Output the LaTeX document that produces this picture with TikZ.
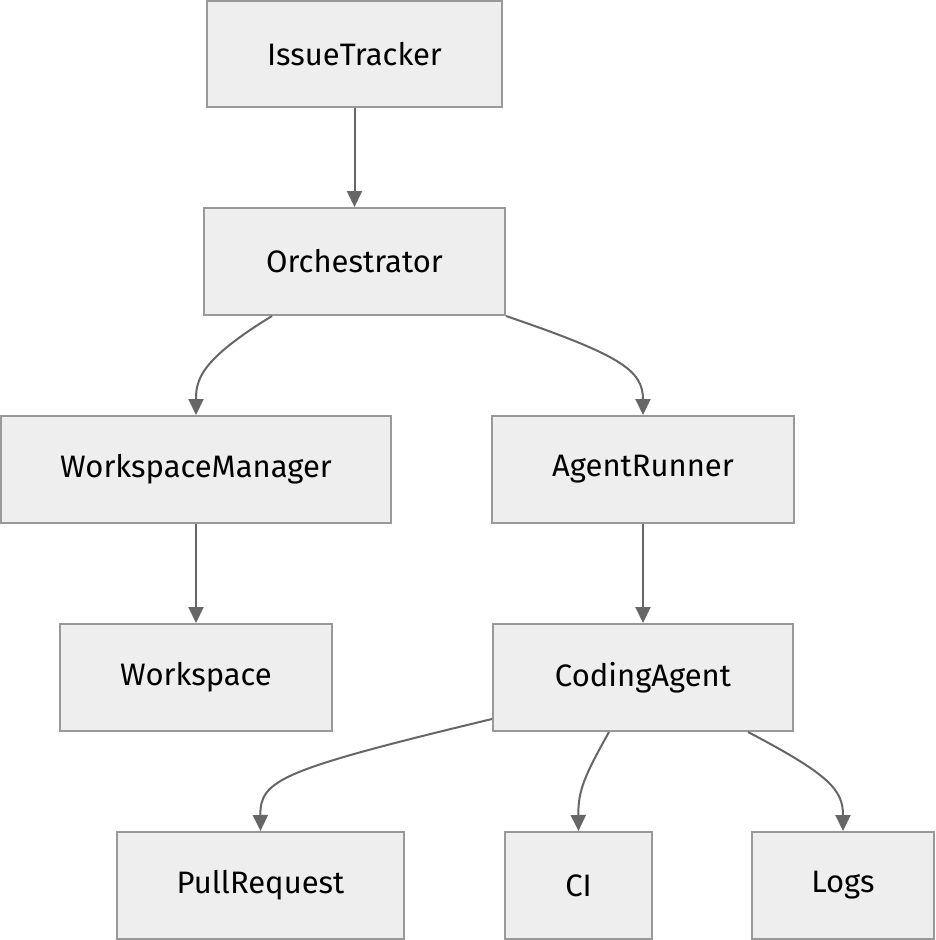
\documentclass[tikz,border=0pt]{standalone}
\usepackage{fontspec}
\setmainfont{Fira Sans}
\usetikzlibrary{arrows.meta}
\begin{document}
\begin{tikzpicture}[x=1pt,y=-1pt,
  box/.style={draw=boxborder,fill=boxfill,line width=2pt,inner sep=0pt,font=\fontsize{31}{36}\selectfont,text=black},
  conn/.style={draw=linecol,line width=2pt,-{Triangle[length=16pt,width=15pt]}}]
\definecolor{boxborder}{HTML}{999999}
\definecolor{boxfill}{HTML}{EEEEEE}
\definecolor{linecol}{HTML}{666666}
\useasboundingbox (0,0) rectangle (935,940);
\node[box,minimum width=295pt,minimum height=106pt] (it) at (354.5,54) {IssueTracker};
\node[box,minimum width=301pt,minimum height=107pt] (orch) at (354.5,261.5) {Orchestrator};
\node[box,minimum width=390pt,minimum height=107pt] (wm) at (196,469.5) {WorkspaceManager};
\node[box,minimum width=302pt,minimum height=107pt] (ar) at (643,469.5) {AgentRunner};
\node[box,minimum width=272pt,minimum height=107pt] (ws) at (196,677.5) {Workspace};
\node[box,minimum width=300pt,minimum height=107pt] (ca) at (643,677.5) {CodingAgent};
\node[box,minimum width=287pt,minimum height=107pt] (pr) at (260.5,885.5) {PullRequest};
\node[box,minimum width=147pt,minimum height=107pt] (ci) at (578.5,885.5) {CI};
\node[box,minimum width=182pt,minimum height=107pt] (logs) at (843,885.5) {Logs};
\draw[conn] (it.south) -- (orch.north);
\draw[conn] ([xshift=-82.5pt]orch.south) .. controls (200,360) and (196,380) .. (wm.north);
\draw[conn] (orch.south east) .. controls (620,355) and (643,370) .. (ar.north);
\draw[conn] (wm.south) -- (ws.north);
\draw[conn] (ar.south) -- (ca.north);
\draw[conn] ([yshift=13pt]ca.south west) .. controls (280,770) and (260,780) .. (pr.north);
\draw[conn] ([xshift=-34pt]ca.south) .. controls (585,775) and (578,790) .. (ci.north);
\draw[conn] ([xshift=105pt]ca.south) .. controls (830,775) and (843,790) .. (logs.north);
\end{tikzpicture}
\end{document}
